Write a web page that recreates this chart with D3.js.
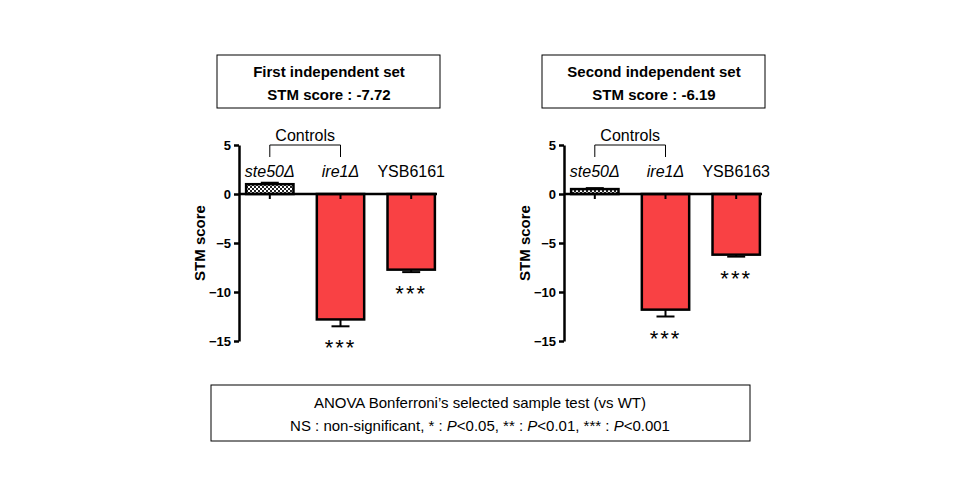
<!DOCTYPE html>
<meta charset="utf-8">
<style>
body { margin: 0; background: white; }
text { font-family: "Liberation Sans", Arial, sans-serif; }
</style>
<body>
<script src="https://d3js.org/d3.v7.min.js"></script>
<script>
var width = 960, height = 500;

var categories = ["ste50Δ", "ire1Δ"];
var titles = ["First independent set", "Second independent set"];
var stmScores = ["-7.72", "-6.19"];
var strains = ["YSB6161", "YSB6163"];
var values1 = [1.0, -12.8, -7.72];
var errors1 = [0.15, 0.7, 0.25];
var values2 = [0.5, -11.8, -6.19];
var errors2 = [0.1, 0.7, 0.2];
var yTicks = [5, 0, -5, -10, -15];

var svg = d3.select("body").append("svg")
    .attr("width", width).attr("height", height);

var defs = svg.append("defs");
var pat = defs.append("pattern").attr("id", "check")
    .attr("width", 4).attr("height", 4).attr("patternUnits", "userSpaceOnUse");
pat.append("rect").attr("width", 4).attr("height", 4).attr("fill", "white");
pat.append("rect").attr("width", 2).attr("height", 2).attr("fill", "#222");
pat.append("rect").attr("x", 2).attr("y", 2).attr("width", 2).attr("height", 2).attr("fill", "#222");

var y = d3.scaleLinear().domain([5, -15]).range([145, 341]);

function panel(x0, title, score, strain, vals, errs) {
  var g = svg.append("g");
  var names = categories.concat([strain]);
  var x = d3.scaleBand().domain(names).range([x0 + 5, x0 + 198]).paddingInner(0.33).paddingOuter(0.03);

  // title box
  g.append("rect").attr("x", x0 - 22).attr("y", 55).attr("width", 223).attr("height", 53)
    .attr("fill", "white").attr("stroke", "black").attr("stroke-width", 1);
  g.append("text").attr("x", x0 + 90).attr("y", 77).attr("text-anchor", "middle")
    .attr("font-size", 15).attr("font-weight", "bold").text(title);
  g.append("text").attr("x", x0 + 90).attr("y", 100).attr("text-anchor", "middle")
    .attr("font-size", 15).attr("font-weight", "bold").text("STM score : " + score);

  var data = vals.map(function(v, i) { return {name: names[i], v: v, e: errs[i], i: i}; });

  data.forEach(function(d) {
    var cx = x(d.name) + x.bandwidth() / 2;
    var ye = d.v >= 0 ? y(d.v + d.e) : y(d.v - d.e);
    g.append("line").attr("x1", cx).attr("x2", cx).attr("y1", y(d.v)).attr("y2", ye)
      .attr("stroke", "black").attr("stroke-width", 2);
    g.append("line").attr("x1", cx - 9).attr("x2", cx + 9).attr("y1", ye).attr("y2", ye)
      .attr("stroke", "black").attr("stroke-width", 2);
  });

  g.selectAll("rect.bar").data(data).enter().append("rect").attr("class", "bar")
    .attr("x", function(d) { return x(d.name); })
    .attr("width", x.bandwidth())
    .attr("y", function(d) { return y(Math.max(0, d.v)); })
    .attr("height", function(d) { return Math.abs(y(d.v) - y(0)); })
    .attr("fill", function(d) { return d.i === 0 ? "url(#check)" : "#f94144"; })
    .attr("stroke", "black").attr("stroke-width", 2.5);

  var ax = g.append("g").attr("transform", "translate(" + x0 + ",0)")
    .call(d3.axisLeft(y).tickValues(yTicks).tickSize(5).tickSizeOuter(0));
  ax.select(".domain").attr("stroke-width", 2.5);
  ax.selectAll(".tick line").attr("stroke-width", 2.5);
  ax.selectAll("text").attr("font-size", 13).attr("font-weight", "bold")
    .attr("font-family", "'Liberation Sans', Arial, sans-serif");
  g.append("line").attr("x1", x0).attr("x2", x0 + 198).attr("y1", y(0)).attr("y2", y(0))
    .attr("stroke", "black").attr("stroke-width", 2.5);
  data.forEach(function(d) {
    var cx = x(d.name) + x.bandwidth() / 2;
    g.append("line").attr("x1", cx).attr("x2", cx).attr("y1", y(0)).attr("y2", y(0) + 5)
      .attr("stroke", "black").attr("stroke-width", 2);
  });
  g.append("text").attr("transform", "translate(" + (x0 - 34) + ",243) rotate(-90)")
    .attr("text-anchor", "middle").attr("font-size", 15).attr("font-weight", "bold")
    .text("STM score");

  data.forEach(function(d) {
    g.append("text").attr("x", x(d.name) + x.bandwidth() / 2).attr("y", 177)
      .attr("text-anchor", "middle").attr("font-size", 16)
      .attr("font-style", d.i < 2 ? "italic" : "normal").text(d.name);
  });

  var c1 = x(names[0]) + x.bandwidth() / 2, c2 = x(names[1]) + x.bandwidth() / 2;
  g.append("path").attr("d", "M" + c1 + ",157V145H" + c2 + "V157")
    .attr("fill", "none").attr("stroke", "black").attr("stroke-width", 1);
  g.append("text").attr("x", (c1 + c2) / 2).attr("y", 141).attr("text-anchor", "middle")
    .attr("font-size", 16).text("Controls");

  data.slice(1).forEach(function(d) {
    g.append("text").attr("x", x(d.name) + x.bandwidth() / 2).attr("y", y(d.v - d.e) + 29)
      .attr("text-anchor", "middle").attr("font-size", 22).attr("fill", "black")
      .attr("font-family", "'DejaVu Sans', sans-serif").attr("letter-spacing", 2).text("***");
  });
}

panel(239, titles[0], stmScores[0], strains[0], values1, errors1);
panel(564, titles[1], stmScores[1], strains[1], values2, errors2);

svg.append("rect").attr("x", 211).attr("y", 385).attr("width", 539).attr("height", 56)
  .attr("fill", "white").attr("stroke", "black");
svg.append("text").attr("x", 480).attr("y", 408).attr("text-anchor", "middle")
  .attr("font-size", 15).text("ANOVA Bonferroni’s selected sample test (vs WT)");
var t = svg.append("text").attr("x", 480).attr("y", 431).attr("text-anchor", "middle").attr("font-size", 15);
t.append("tspan").text("NS : non-significant, * : ");
t.append("tspan").attr("font-style", "italic").text("P");
t.append("tspan").text("<0.05, ** : ");
t.append("tspan").attr("font-style", "italic").text("P");
t.append("tspan").text("<0.01, *** : ");
t.append("tspan").attr("font-style", "italic").text("P");
t.append("tspan").text("<0.001");
</script>
</body>
</html>
